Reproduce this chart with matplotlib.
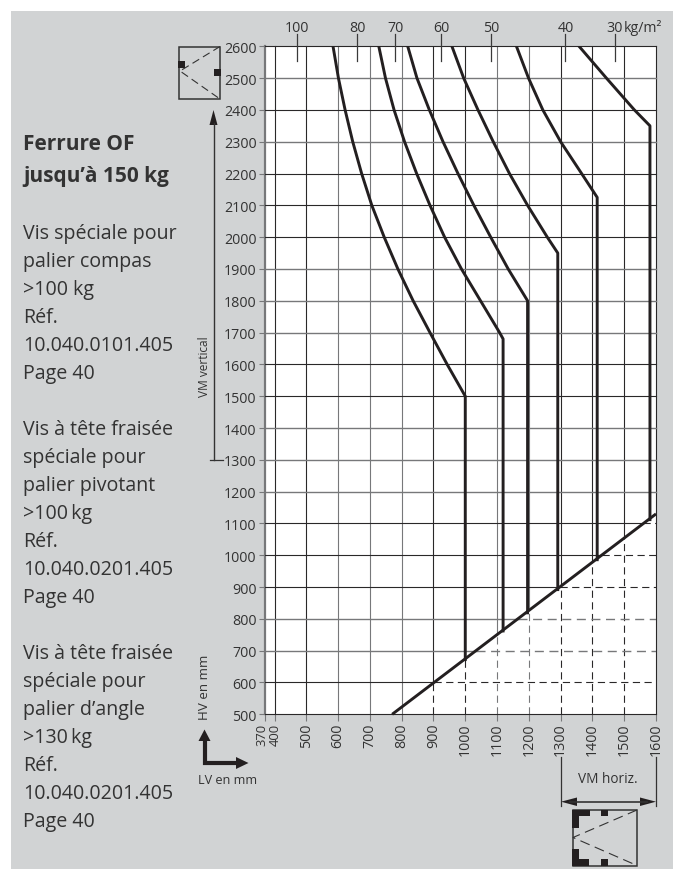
import matplotlib
matplotlib.use("Agg")
import matplotlib.pyplot as plt
from matplotlib.patches import Rectangle, Polygon
from matplotlib.transforms import ScaledTranslation

plt.rcParams["font.family"] = ["Open Sans", "DejaVu Sans"]

W, H = 674, 870
BG = "#d1d3d4"
TXT = "#333333"
DARK = "#231f20"
GRID_K = "#2a2829"
GRID_G = "#77787a"

# grid ticks
x_ticks = [370, 400, 500, 600, 700, 800, 900, 1000, 1100, 1200, 1300, 1400, 1500, 1600]
y_ticks = list(range(500, 2700, 100))

# which lines print dark or grey in the reference
x_grey = [370, 600, 700, 800, 1100, 1200]
y_grey = [800, 700, 1200, 1300, 1400, 1700, 1800, 1900, 2300, 2500]

# kg/m2 scale on top
load_labels = ["100", "80", "70", "60", "50", "40", "30"]
load_x = [470, 660, 779, 924, 1082, 1315, 1470]

# limit curves, x = LV, y = HV
curve_a_x = [584, 601, 622, 646, 674, 706, 745, 788, 836, 889, 943, 1000, 1000]
curve_a_y = [2600, 2500, 2400, 2300, 2200, 2100, 2000, 1900, 1800, 1700, 1600, 1500, 672]
curve_b_x = [728, 749, 776, 809, 847, 889, 935, 988, 1048, 1108, 1119, 1119]
curve_b_y = [2600, 2500, 2400, 2300, 2200, 2100, 2000, 1900, 1800, 1700, 1680, 762]
curve_c_x = [819, 848, 887, 930, 977, 1027, 1080, 1135, 1196, 1196]
curve_c_y = [2600, 2500, 2400, 2300, 2200, 2100, 2000, 1900, 1800, 819]
curve_d_x = [958, 995, 1040, 1088, 1139, 1196, 1258, 1291, 1291]
curve_d_y = [2600, 2500, 2400, 2300, 2200, 2100, 2000, 1950, 892]
curve_e_x = [1161, 1199, 1244, 1300, 1366, 1415, 1415]
curve_e_y = [2600, 2500, 2400, 2300, 2200, 2125, 986]
curve_f_x = [1358, 1444, 1532, 1581, 1581]
curve_f_y = [2600, 2500, 2400, 2350, 1112]
curves = [(curve_a_x, curve_a_y), (curve_b_x, curve_b_y), (curve_c_x, curve_c_y),
          (curve_d_x, curve_d_y), (curve_e_x, curve_e_y), (curve_f_x, curve_f_y)]

# lower limit line
limit_x = [770, 1600]
limit_y = [500, 1130]

# left column, (baseline px, text, bold)
side_text = [
    (150, "Ferrure OF", True), (182, "jusqu’à 150 kg", True),
    (239, "Vis spéciale pour", False), (267, "palier compas", False), (295, ">100 kg", False),
    (323, "Réf.", False), (351, "10.040.0101.405", False), (379, "Page 40", False),
    (435, "Vis à tête fraisée", False), (463, "spéciale pour", False), (491, "palier pivotant", False),
    (519, ">100\u2009kg", False), (547, "Réf.", False), (575, "10.040.0201.405", False), (603, "Page 40", False),
    (659, "Vis à tête fraisée", False), (687, "spéciale pour", False), (715, "palier d’angle", False),
    (743, ">130\u2009kg", False), (771, "Réf.", False), (799, "10.040.0201.405", False), (827, "Page 40", False),
]


def slant_y(x):
    return limit_y[0] + (x - limit_x[0]) * (limit_y[1] - limit_y[0]) / (limit_x[1] - limit_x[0])


def slant_x(y):
    return limit_x[0] + (y - limit_y[0]) * (limit_x[1] - limit_x[0]) / (limit_y[1] - limit_y[0])


fig = plt.figure(figsize=(W / 100, H / 100), dpi=100, facecolor="white")

# grey panel and pixel overlay
over = fig.add_axes([0, 0, 1, 1], zorder=3)
over.set_xlim(0, W)
over.set_ylim(H, 0)
over.axis("off")
over.patch.set_alpha(0)

back = fig.add_axes([0, 0, 1, 1], zorder=0)
back.set_xlim(0, W)
back.set_ylim(H, 0)
back.axis("off")
back.add_patch(Rectangle((11, 12), 662, 858, color=BG, lw=0))

# main chart
left, right, top, bottom = 265, 656, 47.3, 715.3
ax = fig.add_axes([left / W, 1 - bottom / H, (right - left) / W, (bottom - top) / H], zorder=2)
ax.set_xlim(370, 1600)
ax.set_ylim(500, 2600)
for s in ax.spines.values():
    s.set_visible(False)

DASH = (0, (6.5, 4))
LW = 0.8
for x in x_ticks:
    c = GRID_G if x in x_grey else GRID_K
    lw = 1.6 if x == 370 else LW
    if x == 1600 or x < limit_x[0]:
        ax.plot([x, x], [500, 2600], color=c, lw=lw, clip_on=False, zorder=1)
    else:
        ax.plot([x, x], [slant_y(x), 2600], color=c, lw=lw, zorder=1)
        ax.plot([x, x], [500, slant_y(x)], color=c, lw=lw, ls=DASH, zorder=1)
for y in y_ticks:
    c = GRID_G if y in y_grey else GRID_K
    lw = LW + 0.2 if y in y_grey else LW
    if y > limit_y[1] or y == 500:
        ax.plot([370, 1600], [y, y], color=c, lw=lw, clip_on=False, zorder=1)
    else:
        ax.plot([370, slant_x(y)], [y, y], color=c, lw=lw, zorder=1)
        ax.plot([slant_x(y), 1600], [y, y], color=c, lw=lw, ls=DASH, zorder=1)

for cx, cy in curves:
    ax.plot(cx, cy, color=DARK, lw=2.1, solid_joinstyle="round", zorder=3)
ax.plot(limit_x, limit_y, color=DARK, lw=2.1, zorder=4, solid_capstyle="butt", clip_on=False)

ax.set_xticks(x_ticks)
ax.set_xticklabels([str(v) for v in x_ticks], rotation=90, fontsize=10.3, color=TXT)
ax.set_yticks(y_ticks)
ax.set_yticklabels([str(v) for v in y_ticks], fontsize=10.3, color=TXT)
ax.tick_params(axis="x", length=5, width=0.8, color=GRID_G, pad=1)
ax.tick_params(axis="y", length=4.5, width=0.8, color=GRID_G, pad=1.5)
ax.set_axisbelow(True)

# 370 and 400 sit close together, nudge them apart
lab370, lab400 = ax.get_xticklabels()[:2]
lab370.set_fontsize(9.4)
lab400.set_fontsize(9.4)
lab370.set_transform(lab370.get_transform() + ScaledTranslation(-3.5 / 100, 0, fig.dpi_scale_trans))
lab400.set_transform(lab400.get_transform() + ScaledTranslation(1 / 100, 0, fig.dpi_scale_trans))

# kg/m2 scale, ticks stick out above the frame
px = (right - left) / (1600 - 370)
for lab, x in zip(load_labels, load_x):
    xp = left + (x - 370) * px
    over.plot([xp, xp], [35, 61.5], color="#3a3a3a", lw=0.9)
    over.text(xp, 31.5, lab, ha="center", va="baseline", fontsize=10.3, color=TXT)
over.text(left + (1470 - 370) * px + 9.5, 31.5, "kg/m²", ha="left", va="baseline", fontsize=10.2, color=TXT)

# left text
for yb, s, bold in side_text:
    over.text(23, yb, s, ha="left", va="baseline", fontsize=15.0 if bold else 14.1, color=TXT,
              fontweight="bold" if bold else "normal")

# window icon top left
over.add_patch(Rectangle((179, 47.5), 41, 52.5, fill=False, ec="#333333", lw=1.1))
over.add_patch(Rectangle((177.7, 62), 7, 7, color=DARK, lw=0))
over.add_patch(Rectangle((214.3, 70), 7, 7, color=DARK, lw=0))
over.plot([220, 180, 220], [47.5, 72, 100], color="#333333", lw=0.8, ls=(0, (7, 4)))

# VM vertical arrow
over.plot([213.5, 213.5], [124, 461], color="#333333", lw=1.0)
over.plot([210, 223], [461, 461], color="#333333", lw=0.9)
over.add_patch(Polygon([(213.5, 111), (209.5, 126), (217.5, 126)], color=DARK, lw=0))
over.text(204.5, 367, "VM vertical", rotation=90, ha="center", va="center", fontsize=8.6, color=TXT)
over.text(204.5, 687, "HV en mm", rotation=90, ha="center", va="center", fontsize=9.6, color=TXT)
over.text(228, 781, "LV en mm", ha="center", va="center", fontsize=9.1, color=TXT)

# HV/LV corner arrows
over.plot([204.5, 204.5, 237], [739, 764, 764], color=DARK, lw=3, solid_joinstyle="miter")
over.add_patch(Polygon([(204.5, 730.5), (198.5, 742), (210.5, 742)], color=DARK, lw=0))
over.add_patch(Polygon([(248.5, 764), (236, 758), (236, 770)], color=DARK, lw=0))

# VM horiz
for xp in (560.7, 656):
    over.plot([xp, xp], [758, 807], color="#333333", lw=0.9)
over.plot([570, 647], [802.7, 802.7], color="#333333", lw=1.2)
over.add_patch(Polygon([(561, 802.7), (577, 798.5), (577, 807)], color=DARK, lw=0))
over.add_patch(Polygon([(656, 802.7), (640, 798.5), (640, 807)], color=DARK, lw=0))
over.text(607.7, 780, "VM horiz.", ha="center", va="center", fontsize=9.8, color=TXT)

# window icon bottom right
over.add_patch(Rectangle((572.5, 811), 64.5, 55.5, fill=False, ec="#333333", lw=1.1))
for x0, y0, w, h in [(572, 810.7, 18, 6.6), (572, 810.7, 7.3, 18), (572, 850, 7.3, 17),
                     (572, 860, 17, 7), (601, 810.7, 7.3, 6.6), (601, 860, 7.3, 7)]:
    over.add_patch(Rectangle((x0, y0), w, h, color=DARK, lw=0))
over.plot([637, 573, 637], [811, 838.5, 866.5], color="#333333", lw=0.8, ls=(0, (9, 5)))

fig.savefig("out.png", dpi=100, facecolor="white")
